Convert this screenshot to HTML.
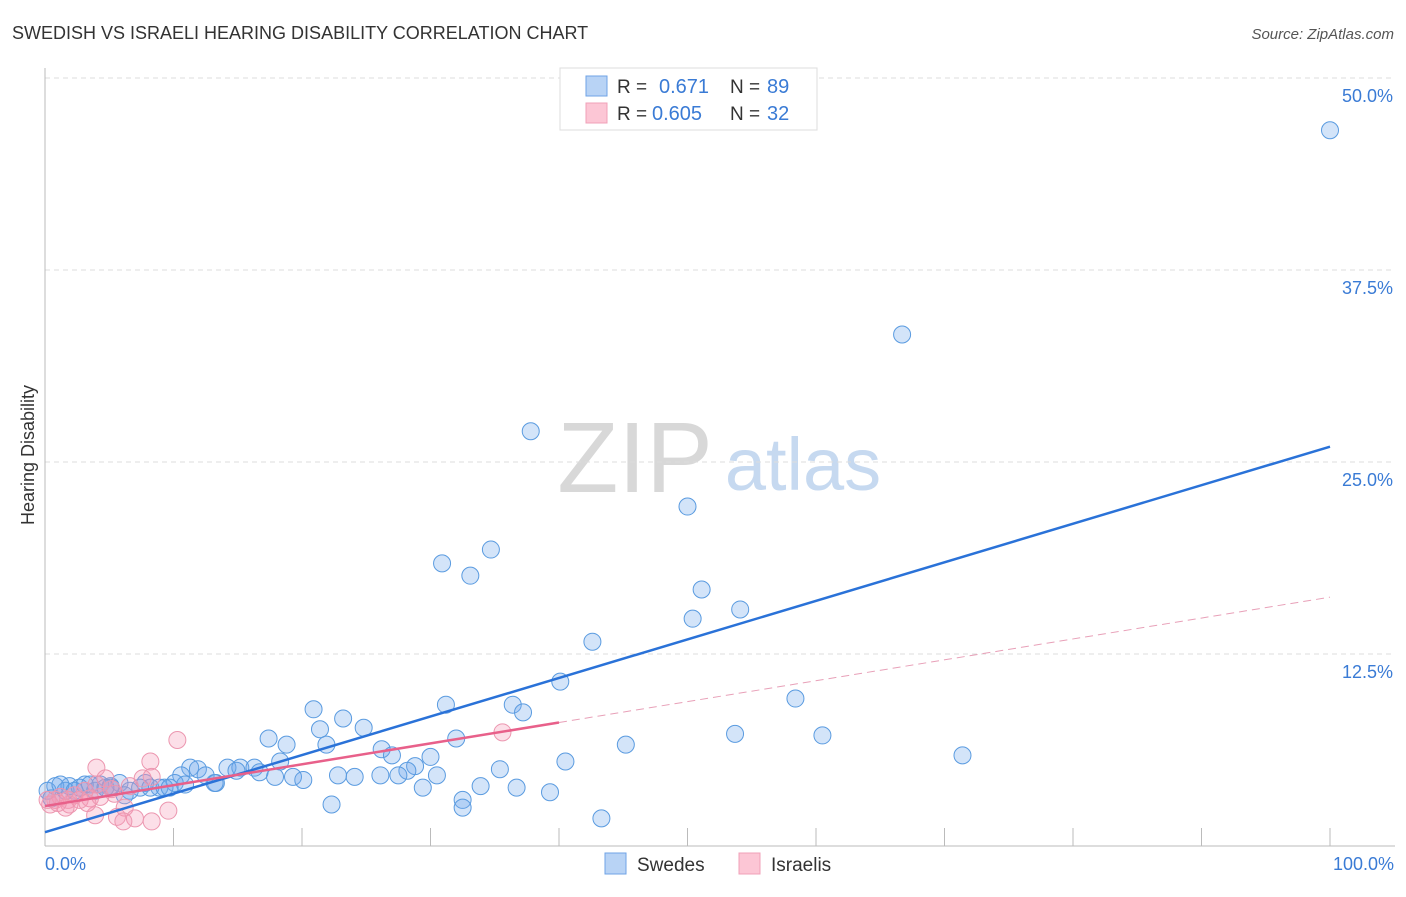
<!DOCTYPE html>
<html><head><meta charset="utf-8"><style>
body{margin:0;background:#fff;font-family:"Liberation Sans",sans-serif;}
svg text{font-family:"Liberation Sans",sans-serif;}
</style></head><body>
<svg id="chart" width="1406" height="892" xmlns="http://www.w3.org/2000/svg">
<text x="12" y="39" font-size="18" fill="#333">SWEDISH VS ISRAELI HEARING DISABILITY CORRELATION CHART</text>
<text x="1394" y="39" font-size="15" fill="#555" font-style="italic" text-anchor="end">Source: ZipAtlas.com</text>
<g>
<text x="635" y="492" font-size="100" fill="#d8d8d8" font-family="Liberation Serif,serif" text-anchor="middle">ZIP</text>
<text x="803" y="490" font-size="74" fill="#c6d9f0" text-anchor="middle">atlas</text>
</g>
<g id="grid"></g>
<g id="axes"></g>
<g id="marks"></g>
<text transform="translate(34,455) rotate(-90)" font-size="18" fill="#333" text-anchor="middle">Hearing Disability</text>
<text x="45" y="870" font-size="18" fill="#3a7bd5">0.0%</text>
<text x="1394" y="870" font-size="18" fill="#3a7bd5" text-anchor="end">100.0%</text>
<g>
<rect x="560" y="68" width="257" height="62" fill="#fff" stroke="#ddd"/>
<rect x="586" y="76" width="21" height="20" fill="#b8d3f5" stroke="#6fa3e6"/>
<rect x="586" y="103" width="21" height="20" fill="#fcc6d5" stroke="#f0a0b8"/>
<text x="617" y="93" font-size="19" fill="#333">R = </text><text x="659" y="93" font-size="20" fill="#3a7bd5">0.671</text>
<text x="730" y="93" font-size="19" fill="#333">N = </text><text x="767" y="93" font-size="20" fill="#3a7bd5">89</text>
<text x="617" y="120" font-size="19" fill="#333">R = </text><text x="652" y="120" font-size="20" fill="#3a7bd5">0.605</text>
<text x="730" y="120" font-size="19" fill="#333">N = </text><text x="767" y="120" font-size="20" fill="#3a7bd5">32</text>
</g>
<g>
<rect x="605" y="853" width="21" height="21" fill="#b8d3f5" stroke="#6fa3e6"/>
<text x="637" y="871" font-size="19" fill="#333">Swedes</text>
<rect x="739" y="853" width="21" height="21" fill="#fcc6d5" stroke="#f0a0b8"/>
<text x="771" y="871" font-size="19" fill="#333">Israelis</text>
</g>
</svg>
<script>
const yTicks=[12.5,25,37.5,50];
const yTickLabels=["12.5%","25.0%","37.5%","50.0%"];
const xTicks=[0,10,20,30,40,50,60,70,80,90,100];
const swedesX=[100,66.7,37.8,50.0,34.7,30.9,33.1,51.1,54.1,50.4,42.6,40.1,58.4,31.2,36.4,20.9,23.2,37.2,24.8,21.4,17.4,32.0,18.8,21.9,45.2,53.7,60.5,26.2,27.0,30.0,71.4,40.5,28.8,28.2,14.2,15.2,16.3,18.3,11.3,11.9,35.4,22.8,24.1,26.1,27.5,30.5,16.7,14.9,17.9,19.3,20.1,10.6,12.5,13.3,10.1,8.9,7.8,5.8,4.3,3.1,1.9,0.8,0.2,0.5,1.6,2.7,3.9,5.1,6.6,7.4,8.2,9.3,9.7,10.9,13.2,29.4,33.9,36.7,39.3,32.5,22.3,32.5,43.3,5.1,6.2,1.2,2.3,3.5,4.7];
const swedesY=[46.6,33.3,27.0,22.1,19.3,18.4,17.6,16.7,15.4,14.8,13.3,10.7,9.6,9.2,9.2,8.9,8.3,8.7,7.7,7.6,7.0,7.0,6.6,6.6,6.6,7.3,7.2,6.3,5.9,5.8,5.9,5.5,5.2,4.9,5.1,5.1,5.1,5.5,5.1,5.0,5.0,4.6,4.5,4.6,4.6,4.6,4.8,4.9,4.5,4.5,4.3,4.6,4.6,4.1,4.1,3.8,4.1,4.1,4.0,4.0,3.9,3.9,3.6,3.1,3.6,3.8,3.6,3.9,3.6,3.8,3.8,3.8,3.8,4.0,4.1,3.8,3.9,3.8,3.5,3.0,2.7,2.5,1.8,3.8,3.3,4.0,3.6,4.0,3.8];
const israelisX=[10.3,8.2,4.0,7.6,8.3,4.7,4.0,6.6,5.2,3.1,2.3,1.8,1.2,0.8,0.4,2.7,3.5,4.3,5.4,1.9,6.2,3.9,5.6,7.0,6.1,8.3,9.6,35.6,3.3,1.6,0.2,1.0];
const israelisY=[6.9,5.5,5.1,4.4,4.5,4.4,4.0,3.9,3.7,3.6,3.3,3.0,3.2,3.0,2.7,3.0,3.1,3.2,3.4,2.7,2.5,2.0,1.9,1.8,1.6,1.6,2.3,7.4,2.8,2.5,3.0,2.8];
const swedesTrend=[0.9,26.0];
const israelisTrend=[2.6,16.2];
const israelisSolidEnd=40;

const NS="http://www.w3.org/2000/svg";
const X=v=>45+v*12.85;
const Y=v=>846-v*15.36;
function mk(tag,attrs,parent){const e=document.createElementNS(NS,tag);for(const k in attrs)e.setAttribute(k,attrs[k]);parent.appendChild(e);return e;}
const grid=document.getElementById('grid'),axes=document.getElementById('axes'),marks=document.getElementById('marks');
yTicks.forEach((t,i)=>{
  const l=mk('line',{x1:45,x2:1395,y1:Y(t),y2:Y(t),stroke:'#ddd','stroke-dasharray':'5,4'},grid);
  
  
  const tx=mk('text',{x:1393,y:Y(t)+24,'font-size':18,fill:'#3a7bd5','text-anchor':'end'},grid);
  tx.textContent=yTickLabels[i];
  
  
});
const ya=mk('line',{x1:45,x2:45,y1:68,y2:846,stroke:'#bbb'},axes);


const xa=mk('line',{x1:45,x2:1395,y1:846,y2:846,stroke:'#bbb'},axes);


xTicks.forEach(t=>{
  const l=mk('line',{x1:X(t),x2:X(t),y1:828,y2:846,stroke:'#bbb'},axes);
  
  
});
swedesX.forEach((v,i)=>{
  const c=mk('circle',{cx:X(v),cy:Y(swedesY[i]),r:8.5,fill:'rgba(110,165,235,0.3)',stroke:'#5a9be0','stroke-width':1},marks);
  
  
});
israelisX.forEach((v,i)=>{
  const c=mk('circle',{cx:X(v),cy:Y(israelisY[i]),r:8.5,fill:'rgba(245,150,180,0.3)',stroke:'#ec97b0','stroke-width':1},marks);
  
  
});
const bt=mk('line',{x1:X(0),y1:Y(swedesTrend[0]),x2:X(100),y2:Y(swedesTrend[1]),stroke:'#2a72d8','stroke-width':2.5},marks);


const pm=israelisTrend[0]+(israelisTrend[1]-israelisTrend[0])*israelisSolidEnd/100;
const ps=mk('line',{x1:X(0),y1:Y(israelisTrend[0]),x2:X(israelisSolidEnd),y2:Y(pm),stroke:'#e8608a','stroke-width':2.5},marks);


const pd=mk('line',{x1:X(israelisSolidEnd),y1:Y(pm),x2:X(100),y2:Y(israelisTrend[1]),stroke:'#e8a0b8','stroke-width':1,'stroke-dasharray':'8,5'},marks);


</script>
</body></html>
